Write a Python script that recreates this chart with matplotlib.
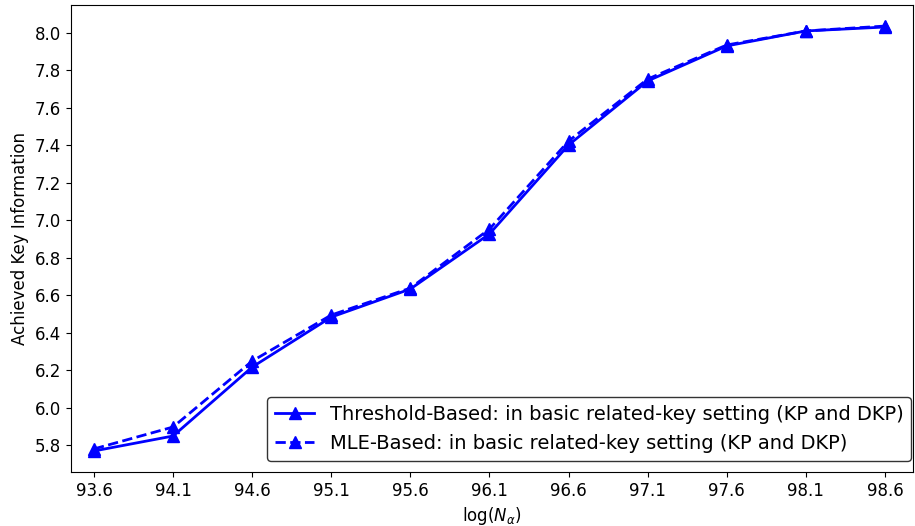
import matplotlib
matplotlib.use("Agg")
import matplotlib.pyplot as plt

x_labels = ["93.6", "94.1", "94.6", "95.1", "95.6", "96.1", "96.6", "97.1", "97.6", "98.1", "98.6"]
x_vals = [93.6, 94.1, 94.6, 95.1, 95.6, 96.1, 96.6, 97.1, 97.6, 98.1, 98.6]
threshold = [5.768, 5.848, 6.216, 6.483, 6.633, 6.927, 7.402, 7.744, 7.931, 8.011, 8.032]
mle = [5.779, 5.896, 6.248, 6.494, 6.638, 6.953, 7.423, 7.754, 7.936, 8.011, 8.037]

fig = plt.figure(figsize=(9.15, 5.26), dpi=100)
ax = fig.add_axes([71/915, 1-472/526, (913-71)/915, (472-5)/526])
ax.plot(x_vals, threshold, '-', color='blue', marker='^', markersize=9, linewidth=2,
        label='Threshold-Based: in basic related-key setting (KP and DKP)')
ax.plot(x_vals, mle, '--', color='blue', marker='^', markersize=9, linewidth=2,
        label='MLE-Based: in basic related-key setting (KP and DKP)')
ax.set_xticks(x_vals)
ax.set_xticklabels(x_labels)
ax.set_yticks([5.8, 6.0, 6.2, 6.4, 6.6, 6.8, 7.0, 7.2, 7.4, 7.6, 7.8, 8.0])
ax.set_xlim(93.455, 98.777)
ax.set_ylim(5.6558, 8.1495)
ax.tick_params(labelsize=12)
ax.set_xlabel(r'log($N_{\alpha}$)', fontsize=12)
ax.set_ylabel('Achieved Key Information', fontsize=12)
ax.legend(loc='lower right', bbox_to_anchor=(1.0, 0.02), borderaxespad=0.1,
          fontsize=14, edgecolor='black', fancybox=True, handlelength=2.0)
fig.savefig('out.png', dpi=100)
